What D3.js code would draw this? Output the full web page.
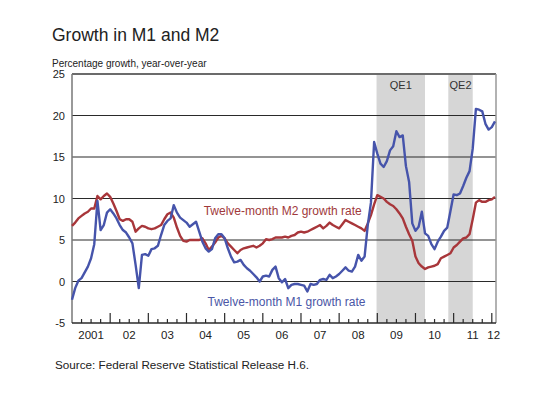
<!DOCTYPE html>
<html>
<head>
<meta charset="utf-8">
<script src="https://cdn.jsdelivr.net/npm/d3@7"></script>
<style>
body { margin: 0; background: #fff; }
svg { font-family: "Liberation Sans", Arial, sans-serif; }
</style>
</head>
<body>
<script>
"use strict";

// monthly series, starting January 2001
var startYear = 2001;
var m1Growth = [
	-2.2, -0.8, 0.1, 0.4, 1.1, 1.8, 2.8, 4.5, 9.7, 6.2, 6.8, 8.3,
	8.7, 8.2, 7.6, 6.8, 6.2, 5.9, 5.3, 4.6, 2.0, -0.8, 3.2, 3.3,
	3.1, 3.9, 4.0, 4.3, 5.6, 6.8, 7.3, 7.6, 9.2, 8.3, 7.7, 7.4,
	7.1, 6.6, 6.9, 7.2, 6.0, 4.8, 4.0, 3.6, 3.9, 5.2, 5.7, 5.7,
	5.2, 4.0, 3.0, 2.3, 2.4, 2.6, 2.0, 1.6, 1.3, 0.9, 0.5, 0.0,
	0.6, 0.7, 0.6, 1.4, 1.8, 0.4, -0.1, 0.3, -0.8, -0.4, -0.3, -0.3,
	-0.4, -0.5, -1.2, -0.3, -0.4, -0.3, 0.2, 0.3, 0.2, 0.8, 0.4, 0.6,
	0.9, 1.3, 1.7, 1.3, 1.2, 1.8, 3.2, 2.5, 3.0, 6.8, 9.5, 16.8,
	15.4, 14.2, 13.8, 14.5, 15.8, 16.3, 18.1, 17.4, 17.6, 13.9, 12.0, 7.0,
	6.1, 6.6, 8.4, 5.8, 5.5, 4.5, 3.9, 4.8, 5.4, 6.1, 6.5, 8.5,
	10.5, 10.4, 10.6, 11.5, 12.5, 13.3, 16.0, 20.8, 20.7, 20.5, 19.0, 18.3,
	18.6, 19.3
];
var m2Growth = [
	6.7, 7.1, 7.6, 7.9, 8.2, 8.4, 8.8, 8.8, 10.3, 9.9, 10.3, 10.6,
	10.2, 9.4, 8.5, 7.5, 7.3, 7.5, 7.5, 7.2, 6.0, 6.4, 6.7, 6.6,
	6.4, 6.3, 6.4, 6.6, 6.8, 7.5, 8.1, 8.3, 7.7, 6.5, 5.5, 4.9,
	4.8, 5.0, 5.0, 5.0, 5.0, 5.2, 4.6, 3.8, 4.2, 4.7, 5.3, 5.5,
	5.2, 4.6, 4.2, 3.8, 3.4, 3.8, 4.0, 4.1, 4.2, 4.3, 4.1, 4.3,
	4.6, 5.1, 5.0, 5.1, 5.3, 5.3, 5.3, 5.4, 5.3, 5.5, 5.6, 5.9,
	6.0, 5.9, 6.0, 6.2, 6.4, 6.6, 6.8, 6.4, 6.7, 7.1, 6.8, 6.6,
	6.4, 6.9, 7.4, 7.2, 7.0, 6.8, 6.6, 6.4, 6.1, 7.0, 8.0, 9.3,
	10.4, 10.2, 10.0, 9.6, 9.3, 9.1, 8.7, 8.2, 7.6, 6.6, 5.7, 4.9,
	3.0, 2.2, 1.8, 1.5, 1.7, 1.8, 1.9, 2.1, 2.8, 3.0, 3.2, 3.4,
	4.1, 4.4, 4.8, 5.2, 5.3, 5.7, 7.5, 9.5, 9.8, 9.6, 9.6, 9.8,
	9.9, 10.2
];

// shaded easing periods, in decimal years
var qeLabels = ["QE1", "QE2"];
var qeStart = [2008.98, 2010.86];
var qeEnd = [2010.25, 2011.5];

var yTicks = [-5, 0, 5, 10, 15, 20, 25];
var yearLabels = ["2001", "02", "03", "04", "05", "06", "07", "08", "09", "10", "11", "12"];

var width = 548, height = 393;
var plot = {left: 72, right: 496, top: 74, bottom: 323};

var svg = d3.select("body").append("svg")
	.attr("width", width)
	.attr("height", height);

var x = d3.scaleLinear().domain([2001, 2012.11]).range([plot.left, plot.right]);
var y = d3.scaleLinear().domain([-5, 25]).range([plot.bottom, plot.top]);

// title and subtitle
svg.append("text")
	.attr("x", 52).attr("y", 41)
	.style("font-size", "17.5px").style("fill", "#222")
	.text("Growth in M1 and M2");
svg.append("text")
	.attr("x", 52).attr("y", 67)
	.style("font-size", "10px").style("fill", "#222")
	.text("Percentage growth, year-over-year");

// QE shading
svg.selectAll("rect.qe")
	.data(qeLabels)
	.enter().append("rect")
	.attr("class", "qe")
	.attr("x", (d, i) => x(qeStart[i]))
	.attr("y", plot.top)
	.attr("width", (d, i) => x(qeEnd[i]) - x(qeStart[i]))
	.attr("height", plot.bottom - plot.top)
	.style("fill", "#d6d6d6");

svg.selectAll("text.qe")
	.data(qeLabels)
	.enter().append("text")
	.attr("class", "qe")
	.attr("x", (d, i) => (x(qeStart[i]) + x(qeEnd[i])) / 2)
	.attr("y", 89)
	.attr("text-anchor", "middle")
	.style("font-size", "11px").style("fill", "#333")
	.text(d => d);

// horizontal grid lines
svg.selectAll("line.grid")
	.data(yTicks.filter(d => d > -5 && d < 25))
	.enter().append("line")
	.attr("class", "grid")
	.attr("x1", plot.left).attr("x2", plot.right)
	.attr("y1", d => y(d)).attr("y2", d => y(d))
	.style("stroke", "#2a2a2a").style("stroke-width", 1.2);

// frame
svg.append("line")
	.attr("x1", plot.left).attr("x2", plot.right)
	.attr("y1", plot.top).attr("y2", plot.top)
	.style("stroke", "#6b6b6b").style("stroke-width", 2);
svg.append("line")
	.attr("x1", plot.left).attr("x2", plot.left)
	.attr("y1", plot.top).attr("y2", plot.bottom)
	.style("stroke", "#777").style("stroke-width", 1.5);
svg.append("line")
	.attr("x1", plot.right).attr("x2", plot.right)
	.attr("y1", plot.top).attr("y2", plot.bottom)
	.style("stroke", "#999").style("stroke-width", 1.5);

// y axis labels
svg.append("g")
	.attr("transform", "translate(" + plot.left + ",0)")
	.call(d3.axisLeft(y).tickValues(yTicks).tickSize(0).tickPadding(7).tickFormat(d => String(d)))
	.call(g => g.select(".domain").remove())
	.call(g => g.selectAll("text")
		.style("font-family", "Liberation Sans, Arial, sans-serif")
		.style("font-size", "11px").style("fill", "#222"));

// the two series
var months = d3.range(m1Growth.length).map(i => startYear + i / 12);
var line = d3.line()
	.x((d, i) => x(months[i]))
	.y(d => y(d));

svg.append("path")
	.datum(m2Growth)
	.attr("d", line)
	.style("fill", "none")
	.style("stroke", "#a8363a")
	.style("stroke-width", 2.4)
	.style("stroke-linejoin", "round");

svg.append("path")
	.datum(m1Growth)
	.attr("d", line)
	.style("fill", "none")
	.style("stroke", "#4654ab")
	.style("stroke-width", 2.4)
	.style("stroke-linejoin", "round");

// series labels
svg.append("text")
	.attr("x", x(2004.45)).attr("y", y(8.0))
	.style("font-size", "12px").style("fill", "#a0393b")
	.text("Twelve-month M2 growth rate");
svg.append("text")
	.attr("x", x(2004.55)).attr("y", y(-3.0))
	.style("font-size", "12px").style("fill", "#4a56a6")
	.text("Twelve-month M1 growth rate");

// x axis: line at bottom, year ticks and quarter ticks
var bottomAxis = svg.append("g")
	.attr("transform", "translate(0," + plot.bottom + ")");
bottomAxis.append("line")
	.attr("x1", plot.left).attr("x2", plot.right)
	.style("stroke", "#2a2a2a").style("stroke-width", 1.4);

var quarters = d3.range(2001.25, 2012.1, 0.25);
bottomAxis.selectAll("line.tick")
	.data(quarters)
	.enter().append("line")
	.attr("class", "tick")
	.attr("x1", d => x(d)).attr("x2", d => x(d))
	.attr("y1", 0)
	.attr("y2", d => (Math.abs(d - Math.round(d)) < 0.01) ? -10 : -4)
	.style("stroke", "#2a2a2a").style("stroke-width", 1.2);

var labelPos = yearLabels.map((d, i) => i < yearLabels.length - 1 ? startYear + i + 0.5 : 2012.05);
bottomAxis.selectAll("text.year")
	.data(yearLabels)
	.enter().append("text")
	.attr("class", "year")
	.attr("x", (d, i) => x(labelPos[i]))
	.attr("y", 16)
	.attr("text-anchor", "middle")
	.style("font-size", "11.5px").style("fill", "#222")
	.text(d => d);

// source
svg.append("text")
	.attr("x", 55).attr("y", 369)
	.style("font-size", "11.7px").style("fill", "#222")
	.text("Source: Federal Reserve Statistical Release H.6.");
</script>
</body>
</html>
